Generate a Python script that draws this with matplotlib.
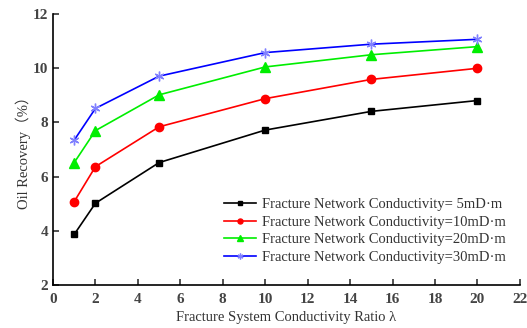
import matplotlib
matplotlib.use("Agg")
import matplotlib.pyplot as plt

plt.rcParams['font.family'] = ['Liberation Serif', 'DejaVu Serif']
plt.rcParams['mathtext.fontset'] = 'stix'

x = [1, 2, 5, 10, 15, 20]
s5 = [3.87, 5.02, 6.52, 7.72, 8.41, 8.81]
s10 = [5.08, 6.37, 7.84, 8.88, 9.59, 10.0]
s20 = [6.52, 7.70, 9.02, 10.05, 10.50, 10.80]
s30 = [7.35, 8.52, 9.71, 10.58, 10.89, 11.07]
labels = ["Fracture Network Conductivity= 5mD·m",
          "Fracture Network Conductivity=10mD·m",
          "Fracture Network Conductivity=20mD·m",
          "Fracture Network Conductivity=30mD·m"]
xticks = [0, 2, 4, 6, 8, 10, 12, 14, 16, 18, 20, 22]
yticks = [2, 4, 6, 8, 10, 12]

fig = plt.figure(figsize=(5.27, 3.28), dpi=100)
ax = fig.add_axes([0.1006, 0.131, 0.886, 0.826])

ax.plot(x, s5, color='black', marker='s', markersize=5, lw=1.2, label=labels[0])
ax.plot(x, s10, color='red', marker='o', markersize=6, lw=1.2, label=labels[1])
ax.plot(x, s20, color='#00ee00', marker='^', markersize=6.5, lw=1.2, label=labels[2])
ax.plot(x, s30, color='blue', marker=(6, 2, 0), markersize=7, lw=1.2,
        markeredgecolor='#8080ff', markeredgewidth=1, label=labels[3])

ax.set_xlim(0, 22)
ax.set_ylim(2, 12)
ax.set_xticks(xticks)
ax.set_yticks(yticks)
ax.spines['top'].set_visible(False)
ax.spines['right'].set_visible(False)
ax.spines['left'].set_linewidth(1.2)
ax.spines['bottom'].set_linewidth(1.2)
ax.tick_params(direction='in', length=4, width=1.2, labelsize=11, colors='#333333', labelcolor='#444444')
for lab in ax.get_xticklabels() + ax.get_yticklabels():
    lab.set_fontweight('bold')
ax.tick_params(axis='x', pad=6)

ax.set_xlabel("Fracture System Conductivity Ratio λ", fontsize=10.5, color='#333333', labelpad=3)
ax.set_ylabel("Oil Recovery（%）", fontsize=10.5, color='#333333', labelpad=1,
              family=['Liberation Serif', 'Noto Sans CJK SC'])

leg = ax.legend(loc='lower right', bbox_to_anchor=(0.997, 0.03), frameon=False,
                fontsize=10.5, handlelength=2.2, handletextpad=0.4, labelspacing=0.3,
                markerscale=0.6)
for t in leg.get_texts():
    t.set_color('#333333')

fig.savefig("out.png", dpi=100)
